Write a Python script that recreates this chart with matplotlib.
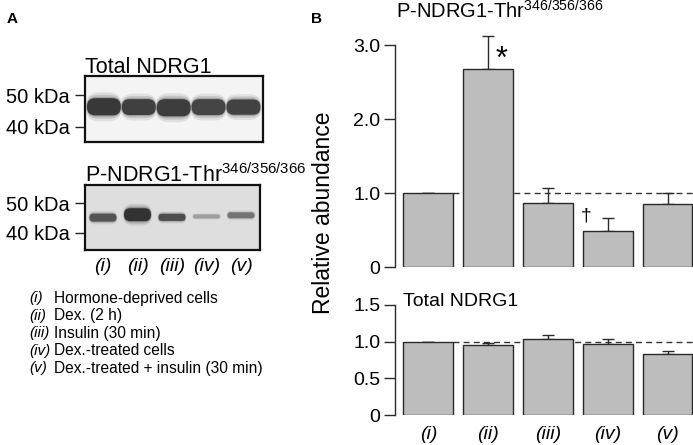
import numpy as np
import matplotlib
matplotlib.use('Agg')
import matplotlib.pyplot as plt
from matplotlib.patches import FancyBboxPatch

plt.rcParams['font.family'] = ['Liberation Sans', 'DejaVu Sans']
plt.rcParams['mathtext.fontset'] = 'custom'
plt.rcParams['mathtext.rm'] = 'Liberation Sans'
plt.rcParams['mathtext.it'] = 'Liberation Sans:italic'

#%% data
lanes = ['(i)', '(ii)', '(iii)', '(iv)', '(v)']
legend_items = ['Hormone-deprived cells', 'Dex. (2 h)', 'Insulin (30 min)',
                'Dex.-treated cells', 'Dex.-treated + insulin (30 min)']

phos_mean = [1.0, 2.67, 0.87, 0.49, 0.85]
phos_sem = [0.0, 0.45, 0.20, 0.17, 0.15]
total_mean = [1.0, 0.95, 1.04, 0.97, 0.83]
total_sem = [0.0, 0.03, 0.05, 0.07, 0.045]

# blot bands: centre (kDa), thickness (kDa units), grey level
tot_band_kda = [46.3, 46.2, 46.0, 46.2, 46.2]
tot_band_h = [5.4, 5.0, 5.4, 5.0, 4.8]
tot_band_grey = [0.22, 0.25, 0.24, 0.27, 0.26]
p_band_kda = [45.1, 46.1, 45.2, 45.5, 45.9]
p_band_h = [2.7, 4.4, 2.4, 1.4, 2.0]
p_band_grey = [0.33, 0.20, 0.30, 0.62, 0.45]

W, H = 693, 445
fig = plt.figure(figsize=(W/100, H/100), dpi=100)

def px_axes(left, top, right, bottom):
    return fig.add_axes([left/W, 1 - bottom/H, (right - left)/W, (bottom - top)/H])

#%% panel A - blots
def band(ax, xc, yc, w, h, asp, grey, alpha):
    r = min(h / asp, w) * 0.48
    ax.add_patch(FancyBboxPatch((xc - w/2 + r, yc - h/2 + r*asp),
                                max(w - 2*r, 1e-3), max(h - 2*r*asp, 1e-3),
                                boxstyle='round,pad=%f' % r,
                                mutation_aspect=asp,
                                fc=str(min(grey, 0.95)), ec='none', alpha=alpha))

def blot(ax, kda, hh, grey, width, bg, ylim, xlim):
    ax.set_facecolor(bg)
    ax.set_xlim(*xlim)
    ax.set_ylim(*ylim)
    bb = ax.get_position()
    xpp = (xlim[1] - xlim[0]) / (bb.width * W)
    ypp = (ylim[1] - ylim[0]) / (bb.height * H)
    asp = ypp / xpp
    for i in range(5):
        xc = i + 1
        # soft halo, then the band itself
        for grow, alpha in [(1.7, 0.12), (1.4, 0.2), (1.15, 0.35)]:
            band(ax, xc, kda[i], width * (1 + (grow - 1) * 0.12), hh[i] * grow,
                 asp, grey[i] + 0.1, alpha)
        band(ax, xc, kda[i], width, hh[i], asp, grey[i], 1.0)
    for s in ax.spines.values():
        s.set_linewidth(1.6)
        s.set_color('#111111')
    ax.set_yticks([50, 40])
    ax.set_yticklabels(['50 kDa', '40 kDa'], fontsize=14.5)
    ax.tick_params(axis='y', length=7, width=1, pad=3.5, color='#222222')
    ax.set_xticks([])

ax_b1 = px_axes(84.7, 76, 263.3, 142)
blot(ax_b1, tot_band_kda, tot_band_h, tot_band_grey, 0.97, '#f4f4f4',
     (35.2, 56.0), (0.45, 5.57))
ax_b2 = px_axes(84.7, 185, 260, 250)
blot(ax_b2, p_band_kda, p_band_h, p_band_grey, 0.78, '#dedede',
     (34.1, 56.2), (0.47, 5.55))
ax_b2.set_xticks(np.arange(1, 6))
ax_b2.set_xticklabels(lanes, fontsize=14, style='italic')
ax_b2.tick_params(axis='x', length=0, pad=6)

fig.text(12/W, 1 - 23/H, 'A', fontsize=11, fontweight='bold', va='baseline', ha='center')
fig.text(85/W, 1 - 72.7/H, 'Total NDRG1', fontsize=15.5, va='baseline')
fig.text(85/W, 1 - 181.7/H, 'P-NDRG1-Thr$^{346/356/366}$', fontsize=15.5, va='baseline')

for i, (lab, txt) in enumerate(zip(lanes, legend_items)):
    y = 1 - (298.3 + i*17.5)/H
    fig.text(29/W, y, lab, fontsize=11, style='italic', va='center')
    fig.text(54.5/W, y, txt, fontsize=11.2, va='center')

#%% panel B - bars
x = np.arange(len(lanes))
bw = 0.83
xl = (-0.565, 4.426)

def bars(ax, mean, sem, ylim, top):
    ax.bar(x, mean, width=bw, color='#bdbdbd', edgecolor='#2a2a2a', linewidth=1, zorder=2)
    ax.errorbar(x, mean, yerr=[np.zeros(len(sem)), sem], fmt='none', ecolor='#2a2a2a',
                elinewidth=1, capsize=4.5, capthick=1, zorder=1)
    ax.hlines(1.0, x[0] + bw/2, xl[1], colors='#333333', linewidth=1,
              linestyles=(0, (4.3, 3)), zorder=0)
    ax.set_xlim(*xl)
    ax.set_ylim(*ylim)
    for s in ['top', 'right', 'bottom']:
        ax.spines[s].set_visible(False)
    ax.spines['left'].set_bounds(0, top)
    ax.spines['left'].set_linewidth(1)
    ax.spines['left'].set_color('#2a2a2a')
    ax.tick_params(axis='y', length=8, width=1, pad=2, labelsize=14, color='#2a2a2a')

ax1 = px_axes(394.5, 22.8, 693, 267.3)
bars(ax1, phos_mean, phos_sem, (0, 3.3), 3.0)
ax1.set_yticks([0, 1, 2, 3])
ax1.set_yticklabels(['0', '1.0', '2.0', '3.0'])
ax1.set_xticks([])
ax1.text(x[1] + 0.22, phos_mean[1] + phos_sem[1] - 0.32, '*', fontsize=22,
         ha='center', va='center')
ax1.text(x[3] - 0.37, phos_mean[3] + 0.2, '\u2020', fontsize=14,
         ha='center', va='center')

ax2 = px_axes(394.5, 297.4, 693, 415)
bars(ax2, total_mean, total_sem, (0, 1.6), 1.5)
ax2.set_yticks([0, 0.5, 1.0, 1.5])
ax2.set_yticklabels(['0', '0.5', '1.0', '1.5'])
ax2.set_xticks(x)
ax2.set_xticklabels(lanes, fontsize=14, style='italic')
ax2.tick_params(axis='x', length=0, pad=8)
fig.text(403.3/W, 1 - 301.7/H, 'Total NDRG1', fontsize=14, va='center')

fig.text(316/W, 1 - 23/H, 'B', fontsize=11, fontweight='bold', va='baseline', ha='center')
fig.text(500/W, 1 - 18.3/H, 'P-NDRG1-Thr$^{346/356/366}$', fontsize=14.5,
         va='baseline', ha='center')
fig.text(324/W, 1 - 213/H, 'Relative abundance', fontsize=16.5, rotation=90,
         va='center', ha='center')

fig.savefig('out.png', dpi=100)
